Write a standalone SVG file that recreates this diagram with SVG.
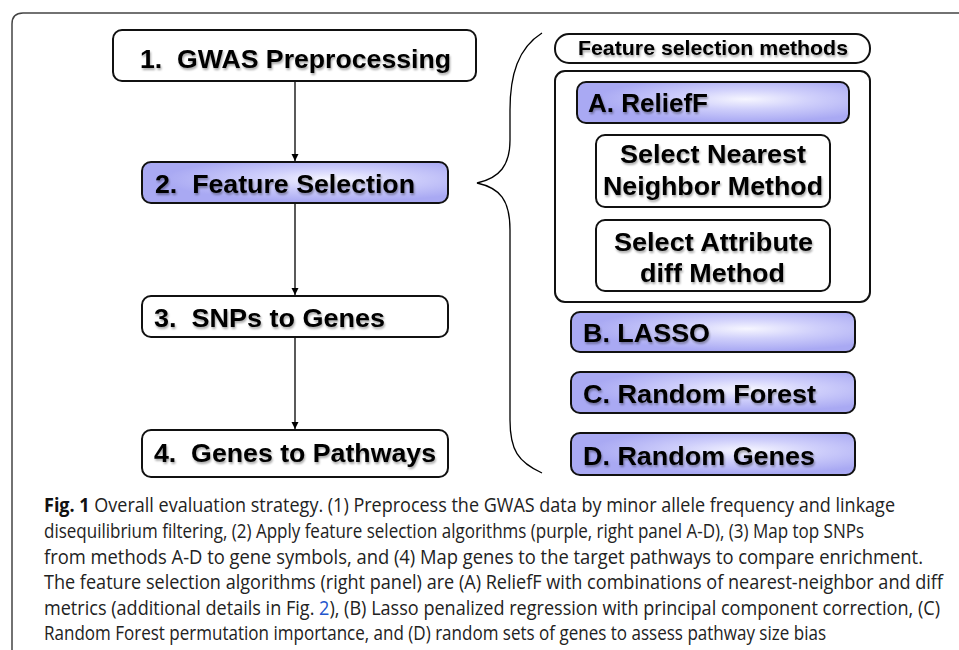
<svg xmlns="http://www.w3.org/2000/svg" width="959" height="650" viewBox="0 0 959 650">
<style>
.box{fill:#fff;stroke:#111;stroke-width:2}
.pbox{fill:url(#purple);stroke:#111;stroke-width:2}
.lbl{font-family:"Liberation Sans",Arial,sans-serif;font-weight:bold;font-size:26px;fill:#000;filter:url(#shadow)}
.cap{font-family:"Open Sans","Liberation Sans",sans-serif;font-size:20px;fill:#222}
.edge{stroke:#000;stroke-width:1.3;fill:none;marker-end:url(#arrow)}
</style>
<defs>
<radialGradient id="purple" cx="0.62" cy="0.42" r="0.55">
<stop offset="0" stop-color="#f6f6ff"/>
<stop offset="0.45" stop-color="#cfcffb"/>
<stop offset="1" stop-color="#a9a9f3"/>
</radialGradient>
<filter id="shadow" x="-5%" y="-20%" width="110%" height="150%">
<feGaussianBlur in="SourceAlpha" stdDeviation="1.2"/>
<feOffset dx="1" dy="1.5" result="b"/>
<feComponentTransfer><feFuncA type="linear" slope="0.35"/></feComponentTransfer>
<feMerge><feMergeNode/><feMergeNode in="SourceGraphic"/></feMerge>
</filter>
<marker id="arrow" viewBox="0 0 10 10" refX="10" refY="5" markerWidth="7" markerHeight="9" markerUnits="userSpaceOnUse" orient="auto">
<path d="M0,0 L10,5 L0,10 z" fill="#000"/>
</marker>
</defs>
<rect width="959" height="650" fill="#fff"/>
<path d="M12,650 L12,24 Q12,13 23,13 L959,13" fill="none" stroke="#444" stroke-width="1.5"/>

<g id="connectors">
<line class="edge" x1="295" y1="81" x2="295" y2="161"/>
<line class="edge" x1="295" y1="203" x2="295" y2="295"/>
<line class="edge" x1="295" y1="337" x2="295" y2="429"/>
<path id="brace" d="M542,33 C518,48 510,75 510,110 L510,140 C510,165 500,178 477,183 C500,188 510,200 510,230 L510,420 C510,450 518,462 542,473" fill="none" stroke="#000" stroke-width="1.3"/>
</g>

<g id="n1"><rect class="box" x="113" y="30" width="363" height="51" rx="9"/>
<text class="lbl" x="140" y="68" textLength="311" lengthAdjust="spacingAndGlyphs">1.&#160; GWAS Preprocessing</text></g>
<g id="n2"><rect class="pbox" x="142" y="162" width="306" height="41" rx="9"/>
<text class="lbl" x="155" y="193" textLength="260" lengthAdjust="spacingAndGlyphs">2.&#160; Feature Selection</text></g>
<g id="n3"><rect class="box" x="142" y="296" width="306" height="41" rx="9"/>
<text class="lbl" x="154" y="327" textLength="231" lengthAdjust="spacingAndGlyphs">3.&#160; SNPs to Genes</text></g>
<g id="n4"><rect class="box" x="142" y="430" width="306" height="47" rx="9"/>
<text class="lbl" x="154" y="462" textLength="282" lengthAdjust="spacingAndGlyphs">4.&#160; Genes to Pathways</text></g>

<g id="methods-title"><rect class="box" x="555" y="34" width="315" height="29" rx="14"/>
<text class="lbl" x="578" y="55" style="font-size:21px" textLength="270" lengthAdjust="spacingAndGlyphs">Feature selection methods</text></g>
<g id="relieff-group"><rect class="box" x="555" y="71" width="315" height="231" rx="10"/></g>
<g id="mA"><rect class="pbox" x="577" y="82" width="272" height="41" rx="9"/>
<text class="lbl" x="588" y="112" textLength="120" lengthAdjust="spacingAndGlyphs">A. ReliefF</text></g>
<g id="mA1"><rect class="box" x="596" y="135" width="234" height="72" rx="9"/>
<text class="lbl" x="620" y="163" textLength="186" lengthAdjust="spacingAndGlyphs">Select Nearest</text>
<text class="lbl" x="603" y="195" textLength="220" lengthAdjust="spacingAndGlyphs">Neighbor Method</text></g>
<g id="mA2"><rect class="box" x="596" y="220" width="234" height="71" rx="9"/>
<text class="lbl" x="614" y="251" textLength="199" lengthAdjust="spacingAndGlyphs">Select Attribute</text>
<text class="lbl" x="640" y="282" textLength="145" lengthAdjust="spacingAndGlyphs">diff Method</text></g>
<g id="mB"><rect class="pbox" x="571" y="312" width="284" height="40" rx="9"/>
<text class="lbl" x="583" y="342" textLength="127" lengthAdjust="spacingAndGlyphs">B. LASSO</text></g>
<g id="mC"><rect class="pbox" x="571" y="372" width="284" height="41" rx="9"/>
<text class="lbl" x="583" y="403" textLength="233" lengthAdjust="spacingAndGlyphs">C. Random Forest</text></g>
<g id="mD"><rect class="pbox" x="571" y="433" width="284" height="42" rx="9"/>
<text class="lbl" x="583" y="465" textLength="232" lengthAdjust="spacingAndGlyphs">D. Random Genes</text></g>

<g id="caption">
<text class="cap" x="44" y="512" textLength="851" lengthAdjust="spacingAndGlyphs"><tspan font-weight="bold" fill="#111">Fig. 1</tspan> Overall evaluation strategy. (1) Preprocess the GWAS data by minor allele frequency and linkage</text>
<text class="cap" x="44" y="538" textLength="820" lengthAdjust="spacingAndGlyphs">disequilibrium filtering, (2) Apply feature selection algorithms (purple, right panel A-D), (3) Map top SNPs</text>
<text class="cap" x="44" y="564" textLength="879" lengthAdjust="spacingAndGlyphs">from methods A-D to gene symbols, and (4) Map genes to the target pathways to compare enrichment.</text>
<text class="cap" x="44" y="589" textLength="899" lengthAdjust="spacingAndGlyphs">The feature selection algorithms (right panel) are (A) ReliefF with combinations of nearest-neighbor and diff</text>
<text class="cap" x="44" y="615" textLength="896" lengthAdjust="spacingAndGlyphs">metrics (additional details in Fig. <tspan fill="#2255cc">2</tspan>), (B) Lasso penalized regression with principal component correction, (C)</text>
<text class="cap" x="44" y="640" textLength="782" lengthAdjust="spacingAndGlyphs">Random Forest permutation importance, and (D) random sets of genes to assess pathway size bias</text>
</g>
</svg>
